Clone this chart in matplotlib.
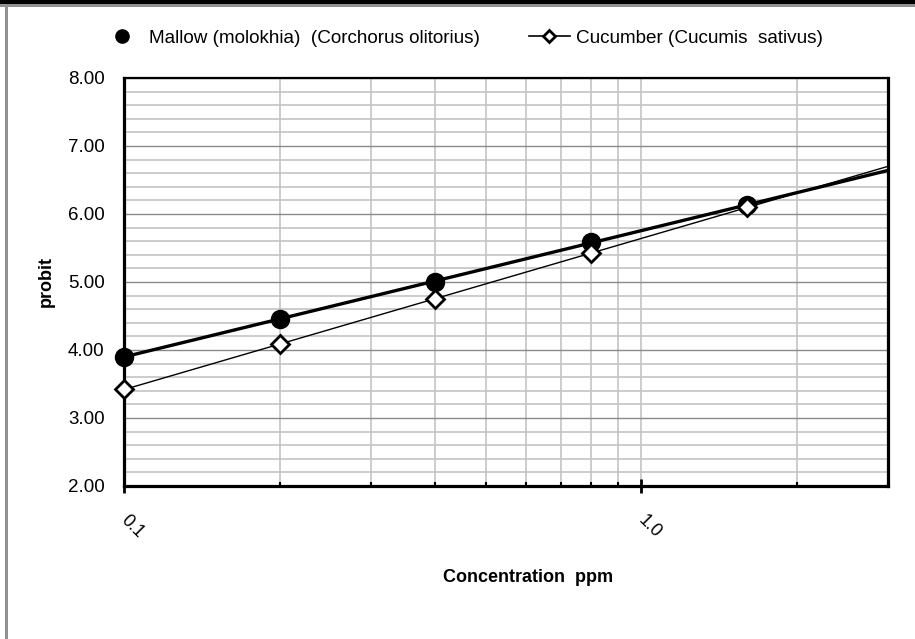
import numpy as np
import matplotlib
matplotlib.use("Agg")
import matplotlib.pyplot as plt
from matplotlib.lines import Line2D
from matplotlib.patches import Rectangle
from matplotlib.ticker import FixedLocator, NullFormatter, MultipleLocator, FormatStrFormatter
import matplotlib.transforms as mtransforms

plt.rcParams['font.family'] = ['Liberation Sans', 'DejaVu Sans']

# data
conc = [0.1, 0.2, 0.4, 0.8, 1.6]
mallow = [3.90, 4.46, 5.00, 5.59, 6.13]
cucumber = [3.42, 4.09, 4.75, 5.42, 6.10]
mallow_label = "Mallow (molokhia)  (Corchorus olitorius)"
cucumber_label = "Cucumber (Cucumis  sativus)"
x_ticks = [0.1, 1.0]
x_ticklabels = ["0.1", "1.0"]
x_minor = [0.2, 0.3, 0.4, 0.5, 0.6, 0.7, 0.8, 0.9, 2.0, 3.0]
x_max = 3.0

W, H = 915, 639
fig = plt.figure(figsize=(W / 100, H / 100), dpi=100)
ax = fig.add_axes([124 / W, 1 - 486 / H, (888 - 124) / W, (486 - 78) / H])

# log trend lines (like excel trendlines), stretched to the right edge
xx = np.array([conc[0], x_max])
for ys, lw in ((mallow, 2.4), (cucumber, 1.0)):
    k, b = np.polyfit(np.log10(conc), ys, 1)
    ax.plot(xx, k * np.log10(xx) + b, color="k", lw=lw, zorder=3, clip_on=False)

ax.plot(conc, mallow, "o", color="k", ms=13, zorder=4, clip_on=False)
ax.plot(conc, cucumber, "D", mfc="white", mec="k", mew=2, ms=9, zorder=5,
        clip_on=False)

ax.set_xscale("log")
ax.set_xlim(0.1, x_max)
ax.set_ylim(2, 8)
ax.xaxis.set_major_locator(FixedLocator(x_ticks))
ax.set_xticklabels(x_ticklabels)
ax.xaxis.set_minor_locator(FixedLocator(x_minor))
ax.xaxis.set_minor_formatter(NullFormatter())
ax.yaxis.set_major_locator(MultipleLocator(1))
ax.yaxis.set_minor_locator(MultipleLocator(0.2))
ax.yaxis.set_major_formatter(FormatStrFormatter("%.2f"))

ax.grid(True, which="major", axis="y", color="#8a8a8a", lw=1.0)
ax.grid(True, which="minor", axis="y", color="#c4c4c4", lw=1.2)
ax.grid(True, which="both", axis="x", color="#c4c4c4", lw=1.2)
ax.set_axisbelow(True)

for s in ax.spines.values():
    s.set_linewidth(2.3)
ax.spines["top"].set_linewidth(1.6)

ax.tick_params(axis="y", which="both", length=0, labelsize=13.5, pad=14)
ax.tick_params(axis="x", which="minor", direction="in", length=3, width=1.5)
ax.tick_params(axis="x", which="major", direction="inout", length=10, width=2,
               labelsize=13, pad=12)
offset = mtransforms.ScaledTranslation(8 / 100, -2 / 100, fig.dpi_scale_trans)
for lab in ax.get_xticklabels():
    lab.set_rotation(-45)
    lab.set_ha("center")
    lab.set_va("top")
    lab.set_transform(lab.get_transform() + offset)

fig.text(46 / W, 1 - 282 / H, "probit", rotation=90, fontsize=13,
         fontweight="bold", ha="center", va="center")
fig.text(528 / W, 1 - 577 / H, "Concentration  ppm", fontsize=13,
         fontweight="bold", ha="center", va="center")

handles = [
    Line2D([], [], ls="none", marker="o", color="k", ms=9.5),
    Line2D([], [], color="k", lw=1.2, marker="D", mfc="white", mec="k",
           mew=2, ms=6),
]
fig.legend(handles, [mallow_label, cucumber_label], ncol=2, frameon=False,
           loc="center left", bbox_to_anchor=(92 / W, 1 - 38 / H),
           fontsize=13.6, borderpad=0, handlelength=2.2, handletextpad=0.3,
           columnspacing=2.6)

# outer frame pieces
fig.add_artist(Rectangle((0, 1 - 4 / H), 1, 4 / H, transform=fig.transFigure,
                         color="black", lw=0))
fig.add_artist(Rectangle((0, 1 - 7 / H), 1, 3 / H, transform=fig.transFigure,
                         color="#909090", lw=0))
fig.add_artist(Rectangle((5 / W, 0), 3 / W, 1 - 4 / H, transform=fig.transFigure,
                         color="#909090", lw=0))

fig.savefig("out.png", dpi=100)
